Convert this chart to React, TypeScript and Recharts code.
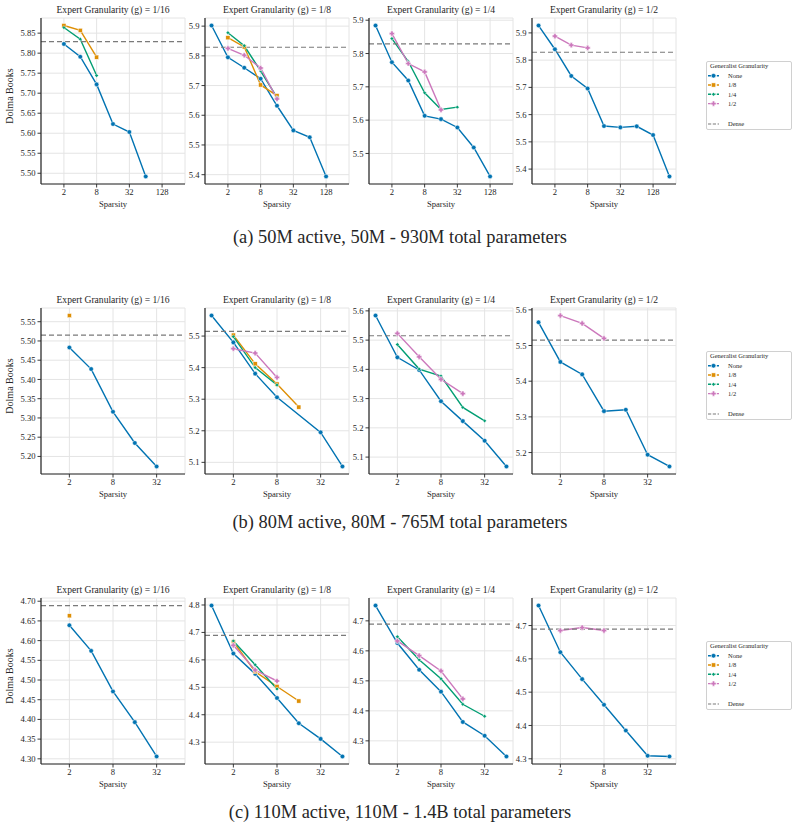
import React from 'react';
import { LineChart, Line, XAxis, YAxis, CartesianGrid, ReferenceLine } from 'recharts';

type Pt = [number, number];
type Shape = 'circle' | 'square' | 'diamond' | 'plus';

const SERIF = "'Liberation Serif', 'Times New Roman', serif";
const INK = '#262626';
const GRID = '#e4e4e4';
const DENSE_COLOR = '#7a7a7a';

// generalist granularity series: label, colour, marker
const GEN_LABELS = ['None', '1/8', '1/4', '1/2'];
const GEN_COLORS = ['#0173b2', '#de8f05', '#029e73', '#cc78bc'];
const GEN_SHAPES: Shape[] = ['circle', 'square', 'diamond', 'plus'];

const EXPERT_G = ['1/16', '1/8', '1/4', '1/2'];

const X_TICKS_A = [2, 8, 32, 128];
const X_TICKS_BC = [2, 8, 32];

// ---- (a) 50M active ----
const DENSE_A = 5.829;
const a16None: Pt[] = [[2, 5.823], [4, 5.791], [8, 5.722], [16, 5.623], [32, 5.603], [64, 5.492]];
const a16G8: Pt[] = [[2, 5.869], [4, 5.857], [8, 5.79]];
const a16G4: Pt[] = [[2, 5.864], [4, 5.835], [8, 5.744]];

const a8None: Pt[] = [[1, 5.902], [2, 5.795], [4, 5.76], [8, 5.723], [16, 5.632], [32, 5.549], [64, 5.526], [128, 5.394]];
const a8G8: Pt[] = [[2, 5.861], [4, 5.83], [8, 5.702], [16, 5.666]];
const a8G4: Pt[] = [[2, 5.878], [4, 5.834], [8, 5.749], [16, 5.66]];
const a8G2: Pt[] = [[2, 5.825], [4, 5.802], [8, 5.759], [16, 5.655]];

const a4None: Pt[] = [[1, 5.884], [2, 5.774], [4, 5.719], [8, 5.613], [16, 5.603], [32, 5.578], [64, 5.518], [128, 5.431]];
const a4G4: Pt[] = [[2, 5.845], [4, 5.776], [8, 5.682], [16, 5.632], [32, 5.639]];
const a4G2: Pt[] = [[2, 5.86], [4, 5.77], [8, 5.745], [16, 5.631]];

const a2None: Pt[] = [[1, 5.927], [2, 5.84], [4, 5.742], [8, 5.696], [16, 5.558], [32, 5.553], [64, 5.557], [128, 5.525], [256, 5.373]];
const a2G2: Pt[] = [[2, 5.888], [4, 5.855], [8, 5.845]];

// ---- (b) 80M active ----
const DENSE_B = 5.515;
const b16None: Pt[] = [[2, 5.483], [4, 5.427], [8, 5.316], [16, 5.235], [32, 5.174]];
const b16G8: Pt[] = [[2, 5.566]];

const b8None: Pt[] = [[1, 5.565], [2, 5.48], [4, 5.381], [8, 5.306], [32, 5.195], [64, 5.087]];
const b8G8: Pt[] = [[2, 5.503], [4, 5.412], [8, 5.348], [16, 5.275]];
const b8G4: Pt[] = [[2, 5.498], [4, 5.4], [8, 5.345]];
const b8G2: Pt[] = [[2, 5.46], [4, 5.446], [8, 5.369]];

const b4None: Pt[] = [[1, 5.584], [2, 5.441], [4, 5.398], [8, 5.291], [16, 5.223], [32, 5.156], [64, 5.068]];
const b4G4: Pt[] = [[2, 5.485], [4, 5.401], [8, 5.377], [16, 5.27], [32, 5.224]];
const b4G2: Pt[] = [[2, 5.523], [4, 5.443], [8, 5.366], [16, 5.317]];

const b2None: Pt[] = [[1, 5.565], [2, 5.454], [4, 5.419], [8, 5.316], [16, 5.32], [32, 5.194], [64, 5.161]];
const b2G2: Pt[] = [[2, 5.584], [4, 5.562], [8, 5.52]];

// ---- (c) 110M active ----
const DENSE_C = 4.689;
const c16None: Pt[] = [[2, 4.639], [4, 4.574], [8, 4.471], [16, 4.393], [32, 4.306]];
const c16G8: Pt[] = [[2, 4.663]];

const c8None: Pt[] = [[1, 4.798], [2, 4.623], [4, 4.549], [8, 4.461], [16, 4.369], [32, 4.312], [64, 4.248]];
const c8G8: Pt[] = [[2, 4.666], [4, 4.557], [8, 4.503], [16, 4.45]];
const c8G4: Pt[] = [[2, 4.669], [4, 4.582], [8, 4.494]];
const c8G2: Pt[] = [[2, 4.653], [4, 4.563], [8, 4.523]];

const c4None: Pt[] = [[1, 4.751], [2, 4.626], [4, 4.537], [8, 4.464], [16, 4.363], [32, 4.317], [64, 4.248]];
const c4G4: Pt[] = [[2, 4.647], [4, 4.57], [8, 4.507], [16, 4.422], [32, 4.382]];
const c4G2: Pt[] = [[2, 4.633], [4, 4.584], [8, 4.533], [16, 4.44]];

const c2None: Pt[] = [[1, 4.76], [2, 4.62], [4, 4.539], [8, 4.462], [16, 4.385], [32, 4.309], [64, 4.307]];
const c2G2: Pt[] = [[2, 4.685], [4, 4.694], [8, 4.685]];

// y tick labels per panel
const Y_TICKS_A = [
  [5.5, 5.55, 5.6, 5.65, 5.7, 5.75, 5.8, 5.85],
  [5.4, 5.5, 5.6, 5.7, 5.8, 5.9],
  [5.5, 5.6, 5.7, 5.8, 5.9],
  [5.4, 5.5, 5.6, 5.7, 5.8, 5.9],
];
const Y_TICKS_B = [
  [5.2, 5.25, 5.3, 5.35, 5.4, 5.45, 5.5, 5.55],
  [5.1, 5.2, 5.3, 5.4, 5.5],
  [5.1, 5.2, 5.3, 5.4, 5.5, 5.6],
  [5.2, 5.3, 5.4, 5.5, 5.6],
];
const Y_TICKS_C = [
  [4.3, 4.35, 4.4, 4.45, 4.5, 4.55, 4.6, 4.65, 4.7],
  [4.3, 4.4, 4.5, 4.6, 4.7, 4.8],
  [4.3, 4.4, 4.5, 4.6, 4.7],
  [4.3, 4.4, 4.5, 4.6, 4.7],
];

const CAPTIONS = [
  '(a) 50M active, 50M - 930M total parameters',
  '(b) 80M active, 80M - 765M total parameters',
  '(c) 110M active, 110M - 1.4B total parameters',
];

// layout
const COL_LEFT = [41, 205, 369, 532];
const ROW_TOP = [18, 308, 598];
const PLOT_W = 144;
const PLOT_H = 166;
const CAPTION_Y = [236.5, 521.5, 811.5];
const LEGEND_TOP = [61, 351, 641];

// series per panel, indexed by generalist granularity (null = not run)
const ROWS: { dense: number; xExp: [number, number]; xTicks: number[]; yTicks: number[][]; panels: (Pt[] | null)[][] }[] = [
  {
    dense: DENSE_A, xExp: [-0.4, 8.4], xTicks: X_TICKS_A, yTicks: Y_TICKS_A,
    panels: [
      [a16None, a16G8, a16G4, null],
      [a8None, a8G8, a8G4, a8G2],
      [a4None, null, a4G4, a4G2],
      [a2None, null, null, a2G2],
    ],
  },
  {
    dense: DENSE_B, xExp: [-0.3, 6.3], xTicks: X_TICKS_BC, yTicks: Y_TICKS_B,
    panels: [
      [b16None, b16G8, null, null],
      [b8None, b8G8, b8G4, b8G2],
      [b4None, null, b4G4, b4G2],
      [b2None, null, null, b2G2],
    ],
  },
  {
    dense: DENSE_C, xExp: [-0.3, 6.3], xTicks: X_TICKS_BC, yTicks: Y_TICKS_C,
    panels: [
      [c16None, c16G8, null, null],
      [c8None, c8G8, c8G4, c8G2],
      [c4None, null, c4G4, c4G2],
      [c2None, null, null, c2G2],
    ],
  },
];

function Marker({ cx, cy, shape, color }: { cx: number; cy: number; shape: Shape; color: string }) {
  if (cx == null || cy == null) return null;
  const common = { fill: color, stroke: '#fff', strokeWidth: 0.5 };
  if (shape === 'square') return <rect x={cx - 2.1} y={cy - 2.1} width={4.2} height={4.2} {...common} />;
  if (shape === 'diamond') {
    const r = 1.9;
    return <polygon points={`${cx},${cy - r} ${cx + r},${cy} ${cx},${cy + r} ${cx - r},${cy}`} {...common} />;
  }
  if (shape === 'plus') {
    const a = 2.6, b = 1.1;
    const pts = [
      [-b, -a], [b, -a], [b, -b], [a, -b], [a, b], [b, b], [b, a], [-b, a], [-b, b], [-a, b], [-a, -b], [-b, -b],
    ].map(([dx, dy]) => `${cx + dx},${cy + dy}`).join(' ');
    return <polygon points={pts} {...common} />;
  }
  return <circle cx={cx} cy={cy} r={2.3} {...common} />;
}

function Txt({ x, y, size, rotate, children }: { x: number; y: number; size: number; rotate?: number; children: React.ReactNode }) {
  return (
    <div style={{
      position: 'absolute', left: x, top: y, fontSize: size, fontFamily: SERIF, color: INK,
      whiteSpace: 'nowrap', lineHeight: 1, transform: `translate(-50%, -50%) rotate(${rotate || 0}deg)`,
    }}>
      {children}
    </div>
  );
}

function Panel({ row, col }: { row: number; col: number }) {
  const r = ROWS[row];
  const series = r.panels[col];
  const left = COL_LEFT[col];
  const top = ROW_TOP[row];
  const yTicks = r.yTicks[col];
  const decimals = yTicks.some(v => Math.abs(v * 10 - Math.round(v * 10)) > 1e-6) ? 2 : 1;

  // 5% padding around data and the dense baseline
  const vals = series.flatMap(s => (s ? s.map(p => p[1]) : [])).concat(r.dense);
  const lo = Math.min(...vals), hi = Math.max(...vals);
  const pad = (hi - lo) * 0.05;

  const tickStyle = { fontSize: 8.6, fill: INK, fontFamily: SERIF };
  return (
    <div style={{ position: 'absolute', left: left - 45, top: top - 5 }}>
      <LineChart width={PLOT_W + 50} height={PLOT_H + 30} margin={{ top: 5, right: 5, left: 0, bottom: 0 }}>
        <CartesianGrid stroke={GRID} strokeWidth={1} />
        <XAxis
          type="number" dataKey="x" scale="log" allowDataOverflow
          domain={[Math.pow(2, r.xExp[0]), Math.pow(2, r.xExp[1])]}
          ticks={r.xTicks} interval={0} height={25}
          tick={tickStyle} tickSize={3.5} tickMargin={1.5}
          axisLine={{ stroke: INK, strokeWidth: 1.2 }} tickLine={{ stroke: INK, strokeWidth: 0.9 }}
        />
        <YAxis
          type="number" dataKey="y" allowDataOverflow domain={[lo - pad, hi + pad]}
          ticks={yTicks} interval={0} width={45}
          tickFormatter={(v: number) => v.toFixed(decimals)}
          tick={tickStyle} tickSize={3.5} tickMargin={2}
          axisLine={{ stroke: INK, strokeWidth: 1.2 }} tickLine={{ stroke: INK, strokeWidth: 0.9 }}
        />
        {series.map((pts, i) =>
          pts ? (
            <Line
              key={GEN_LABELS[i]} name={GEN_LABELS[i]} type="linear"
              data={pts.map(([x, y]) => ({ x, y }))} dataKey="y"
              stroke={GEN_COLORS[i]} strokeWidth={1.4} activeDot={false} isAnimationActive={false}
              dot={(p: any) => <Marker key={`${i}-${p.index}`} cx={p.cx} cy={p.cy} shape={GEN_SHAPES[i]} color={GEN_COLORS[i]} />}
            />
          ) : null
        )}
        <ReferenceLine y={r.dense} stroke={DENSE_COLOR} strokeWidth={1.2} strokeDasharray="5 3" />
      </LineChart>
    </div>
  );
}

function LegendBox({ top }: { top: number }) {
  const rowY = [14.7, 24, 33.3, 42.6];
  return (
    <div style={{
      position: 'absolute', left: 706, top, width: 86, height: 69, boxSizing: 'border-box',
      border: '1px solid #d0d0d0', borderRadius: 2, background: '#fff',
    }}>
      <svg width={86} height={69} style={{ position: 'absolute', left: -1, top: -1 }}>
        <text x={4} y={7.2} fontSize={6.5} fontFamily={SERIF} fill={INK}>Generalist Granularity</text>
        {GEN_LABELS.map((label, i) => (
          <g key={label}>
            <line x1={2} x2={13} y1={rowY[i]} y2={rowY[i]} stroke={GEN_COLORS[i]} strokeWidth={1.4} strokeDasharray="3.2 1.2" />
            <Marker cx={7.5} cy={rowY[i]} shape={GEN_SHAPES[i]} color={GEN_COLORS[i]} />
            <text x={22} y={rowY[i] + 2.2} fontSize={6.5} fontFamily={SERIF} fill={INK}>{label}</text>
          </g>
        ))}
        <line x1={2} x2={13} y1={63} y2={63} stroke={DENSE_COLOR} strokeWidth={1.2} strokeDasharray="3.2 1.6" />
        <text x={22} y={65.2} fontSize={6.5} fontFamily={SERIF} fill={INK}>Dense</text>
      </svg>
    </div>
  );
}

export default function App() {
  return (
    <div style={{ position: 'absolute', left: 0, top: 0, width: 799, height: 828, background: '#fff', overflow: 'hidden' }}>
      {ROWS.map((_, row) => (
        <React.Fragment key={row}>
          {COL_LEFT.map((left, col) => (
            <React.Fragment key={col}>
              <Panel row={row} col={col} />
              <Txt x={left + PLOT_W / 2} y={ROW_TOP[row] - 8} size={9.6}>Expert Granularity (g) = {EXPERT_G[col]}</Txt>
              <Txt x={left + PLOT_W / 2} y={ROW_TOP[row] + PLOT_H + 19.5} size={8.6}>Sparsity</Txt>
            </React.Fragment>
          ))}
          <Txt x={9.5} y={ROW_TOP[row] + 78} size={10} rotate={-90}>Dolma Books</Txt>
          <LegendBox top={LEGEND_TOP[row]} />
          <Txt x={400} y={CAPTION_Y[row]} size={18.4}>{CAPTIONS[row]}</Txt>
        </React.Fragment>
      ))}
    </div>
  );
}
